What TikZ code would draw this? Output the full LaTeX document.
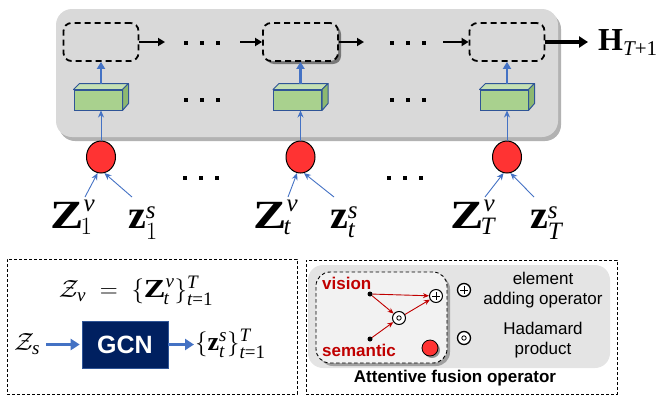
\documentclass[tikz,border=0pt]{standalone}
\usepackage{amsmath}
\usepackage{graphicx}
\usepackage{fontspec}
\setmainfont{Liberation Serif}
\setsansfont{Liberation Sans}
\usetikzlibrary{shapes.geometric,shadows,arrows.meta,calc}
\DeclareMathSizes{40}{40}{25}{18}
\DeclareMathSizes{32}{32}{21}{16}
\DeclareMathSizes{26}{26}{19}{14}
\definecolor{panelgray}{HTML}{D9D9D9}
\definecolor{lightpanel}{HTML}{E4E4E4}
\definecolor{innerpanel}{HTML}{F2F2F2}
\definecolor{arrblue}{HTML}{4472C4}
\definecolor{boxgreen}{HTML}{A9D18E}
\definecolor{boxgreentop}{HTML}{C5E0B4}
\definecolor{boxgreenside}{HTML}{8DB870}
\definecolor{boxedge}{HTML}{2F5597}
\definecolor{ballred}{HTML}{FF3333}
\definecolor{darkred}{HTML}{C00000}
\definecolor{navyblue}{HTML}{002060}
\newcommand\myZ{\text{\scalebox{1.25}[1]{\bfseries Z}}}
\newcommand\myz{\text{\bfseries z}}
\newcommand\myH{\text{\bfseries H}}
\newcommand\mi[1]{\text{\itshape #1}}
\tikzset{
  threedots/.pic={\foreach \k in {-16,0,16} \fill (\k-2.3,-2.3) rectangle ++(4.6,4.6);},
}
\begin{document}
\begin{tikzpicture}[x=1pt,y=-1pt,
  panel/.style={draw=none, fill=panelgray, rounded corners=16pt, inner sep=0pt,
    drop shadow={shadow xshift=3pt, shadow yshift=-4pt, opacity=0.3, fill=black}},
  cell/.style={draw=black, line width=1.8pt, dash pattern=on 6pt off 4pt, rounded corners=8pt,
    minimum width=75pt, minimum height=38pt, inner sep=0pt},
  flowarrow/.style={draw=black, line width=2.6pt, -{Triangle[length=7pt,width=8pt]}},
  bigflow/.style={draw=black, line width=3.4pt, -{Triangle[length=9pt,width=11pt]}},
  gfront/.style={draw=boxedge, line width=1pt, fill=boxgreen, minimum width=48pt, minimum height=20pt, inner sep=0pt},
  ball/.style={ellipse, draw=black, line width=1pt, fill=ballred, minimum width=29pt, minimum height=32pt, inner sep=0pt},
  thinblue/.style={draw=arrblue, line width=0.9pt, -{Stealth[length=7pt,width=6pt]}},
  thickblue/.style={draw=arrblue, line width=2.6pt, -{Triangle[length=7pt,width=8pt]}},
  blockarrow/.style={draw=arrblue, line width=3.6pt, -{Triangle[length=9pt,width=11pt]}},
  lbl/.style={font=\fontsize{40}{44}\selectfont, inner sep=0pt},
  mathtxt/.style={font=\fontsize{26}{30}\selectfont, inner sep=0pt},
  dashbox/.style={draw=black, line width=0.8pt, dash pattern=on 3pt off 2pt, inner sep=0pt},
  redtxt/.style={text=darkred, font=\sffamily\bfseries\fontsize{17}{20}\selectfont, inner sep=0pt},
  legtxt/.style={font=\sffamily\fontsize{17}{20}\selectfont, align=center, inner sep=0pt},
  blackdot/.style={circle, fill=black, minimum size=5pt, inner sep=0pt},
  odotnode/.style={circle, draw=black, line width=1pt, fill=white, minimum size=13pt, inner sep=0pt,
    path picture={\draw[line width=0.8pt] (path picture bounding box.center) circle (2.2pt);}},
  oplusnode/.style={circle, draw=black, line width=1pt, fill=white, minimum size=13pt, inner sep=0pt,
    path picture={\draw[line width=0.8pt] ([xshift=-3.6pt]path picture bounding box.center) -- ([xshift=3.6pt]path picture bounding box.center);
                  \draw[line width=0.8pt] ([yshift=-3.6pt]path picture bounding box.center) -- ([yshift=3.6pt]path picture bounding box.center);}},
  redarr/.style={draw=darkred, line width=0.9pt, -{Stealth[length=6pt,width=5pt]}},
]
\useasboundingbox (0,0) rectangle (664,402);

% ---------- top panel ----------
\node[panel, minimum width=502pt, minimum height=128pt] (panel) at (307,73) {};

\foreach \i/\cx/\sb/\zx/\sx in {1/101/1/50/128, 2/300.5/\mi{t}/253/330, 3/507/\mi{T}/450/530}{
  \ifnum\i=2
    \node[cell, fill=panelgray, drop shadow={shadow xshift=3pt, shadow yshift=-3pt, opacity=0.45, fill=black}] (b\i) at (\cx,42) {};
  \else
    \node[cell] (b\i) at (\cx,42) {};
  \fi
  \node[gfront] (g\i) at (\cx-3,100) {};
  \filldraw[fill=boxgreentop, draw=boxedge, line width=1pt, line join=round]
    (g\i.north west) -- ++(6,-6) -- ($(g\i.north east)+(6,-6)$) -- (g\i.north east) -- cycle;
  \filldraw[fill=boxgreenside, draw=boxedge, line width=1pt, line join=round]
    (g\i.north east) -- ++(6,-6) -- ++(0,20) -- (g\i.south east) -- cycle;
  \coordinate (gt\i) at (\cx,84);
  \node[ball] (c\i) at (\cx,157) {};
  \draw[thickblue] (gt\i) -- (b\i.south);
  \draw[thinblue] (c\i.north) -- (c\i.north |- g\i.south);
  \node[lbl, anchor=base west] (zv\i) at (\zx,228) {$\myZ^{\mi{v}}_{\kern-3pt\sb}$};
  \node[lbl, anchor=base west] (zs\i) at (\sx,228) {$\myz^{\mi{s}}_{\sb}$};
  \coordinate (la\i) at (\zx+35,197);
  \coordinate (ra\i) at (\sx+4,197);
  \draw[thinblue] (la\i) -- (c\i.-102);
  \draw[thinblue] (ra\i) -- (c\i.-78);
}

% flow arrows
\coordinate (e1) at (165,42);
\coordinate (s2) at (240,42);
\coordinate (e2) at (364,42);
\coordinate (s3) at (443,42);
\draw[flowarrow] (b1.east) -- (e1);
\draw[flowarrow] (s2) -- (b2.west);
\draw[flowarrow] (b2.east) -- (e2);
\draw[flowarrow] (s3) -- (b3.west);
\node[font=\fontsize{32}{38}\selectfont, inner sep=0pt, anchor=base west] (H) at (598,50) {$\myH_{\mi{T}\text{+1}}$};
\draw[bigflow, shorten >=10pt] (b3.east) -- (b3.east -| H.west);

% dots
\pic at (202,43) {threedots};
\pic at (408,43) {threedots};
\pic at (202,100) {threedots};
\pic at (408,100) {threedots};
\pic at (201,178) {threedots};
\pic at (405,178) {threedots};

% ---------- bottom left ----------
\node[dashbox, minimum width=290pt, minimum height=135pt] (lbox) at (152,326.5) {};
\node[mathtxt] (zvset) at (136,291) {$\mathcal{Z}_{\mi{v}} \;=\; \{\myZ^{\mi{v}}_{\kern-2pt\mi{t}}\}^{\mi{T}}_{\mi{t}\text{=1}}$};
\node[mathtxt] (zsrc) at (27,344) {$\mathcal{Z}_{\mi{s}}$};
\node[fill=navyblue, draw=boxedge, line width=0.6pt, minimum width=86pt, minimum height=47pt, inner sep=0pt,
      text=white, font=\sffamily\bfseries\fontsize{25}{28}\selectfont] (gcn) at (125,344.5) {GCN};
\node[mathtxt, anchor=west] (zsset) at (195,344) {$\{\myz^{\mi{s}}_{\mi{t}}\}^{\mi{T}}_{\mi{t}\text{=1}}$};
\draw[blockarrow, shorten <=6pt, shorten >=2pt] (zsrc.east |- gcn.west) -- (gcn.west);
\draw[blockarrow, shorten >=1pt] (gcn.east) -- (gcn.east -| zsset.west);

% ---------- bottom right ----------
\node[dashbox, minimum width=311pt, minimum height=134pt] (rbox) at (461.5,327) {};
\node[fill=lightpanel, rounded corners=15pt, minimum width=302pt, minimum height=103pt, inner sep=0pt] (legbg) at (459,316.5) {};
\node[draw=black, line width=0.9pt, dash pattern=on 3.5pt off 2.5pt, fill=innerpanel, rounded corners=14pt,
      minimum width=131pt, minimum height=91pt, inner sep=0pt,
      drop shadow={shadow xshift=3pt, shadow yshift=-3pt, opacity=0.3, fill=black}] (inner) at (381.5,317.5) {};
\node[redtxt, anchor=west] (vis) at (322,283) {vision};
\node[redtxt, anchor=west] (sem) at (322,350) {semantic};
\node[blackdot] (pv) at (370,294) {};
\node[blackdot] (ps) at (370,339) {};
\node[odotnode] (hp) at (399,318) {};
\node[oplusnode] (ad) at (436,296) {};
\draw[redarr] (pv) -- (ad);
\draw[redarr] (pv) -- (hp);
\draw[redarr] (ps) -- (hp);
\draw[redarr] (hp) -- (ad);
\node[circle, fill=ballred, draw=black, line width=0.8pt, minimum size=16pt, inner sep=0pt,
      drop shadow={shadow xshift=2pt, shadow yshift=-2pt, opacity=0.4, fill=black}] (rb) at (430,348) {};
\node[oplusnode, line width=1.3pt] (lad) at (464,290) {};
\node[odotnode, line width=1.3pt] (lhp) at (464,338) {};
\node[legtxt] (t1) at (543,290) {element\\adding operator};
\node[legtxt] (t2) at (543,340) {Hadamard\\product};
\node[font=\sffamily\bfseries\fontsize{17}{20}\selectfont, inner sep=0pt] (cap) at (455,378) {Attentive fusion operator};
\end{tikzpicture}
\end{document}
